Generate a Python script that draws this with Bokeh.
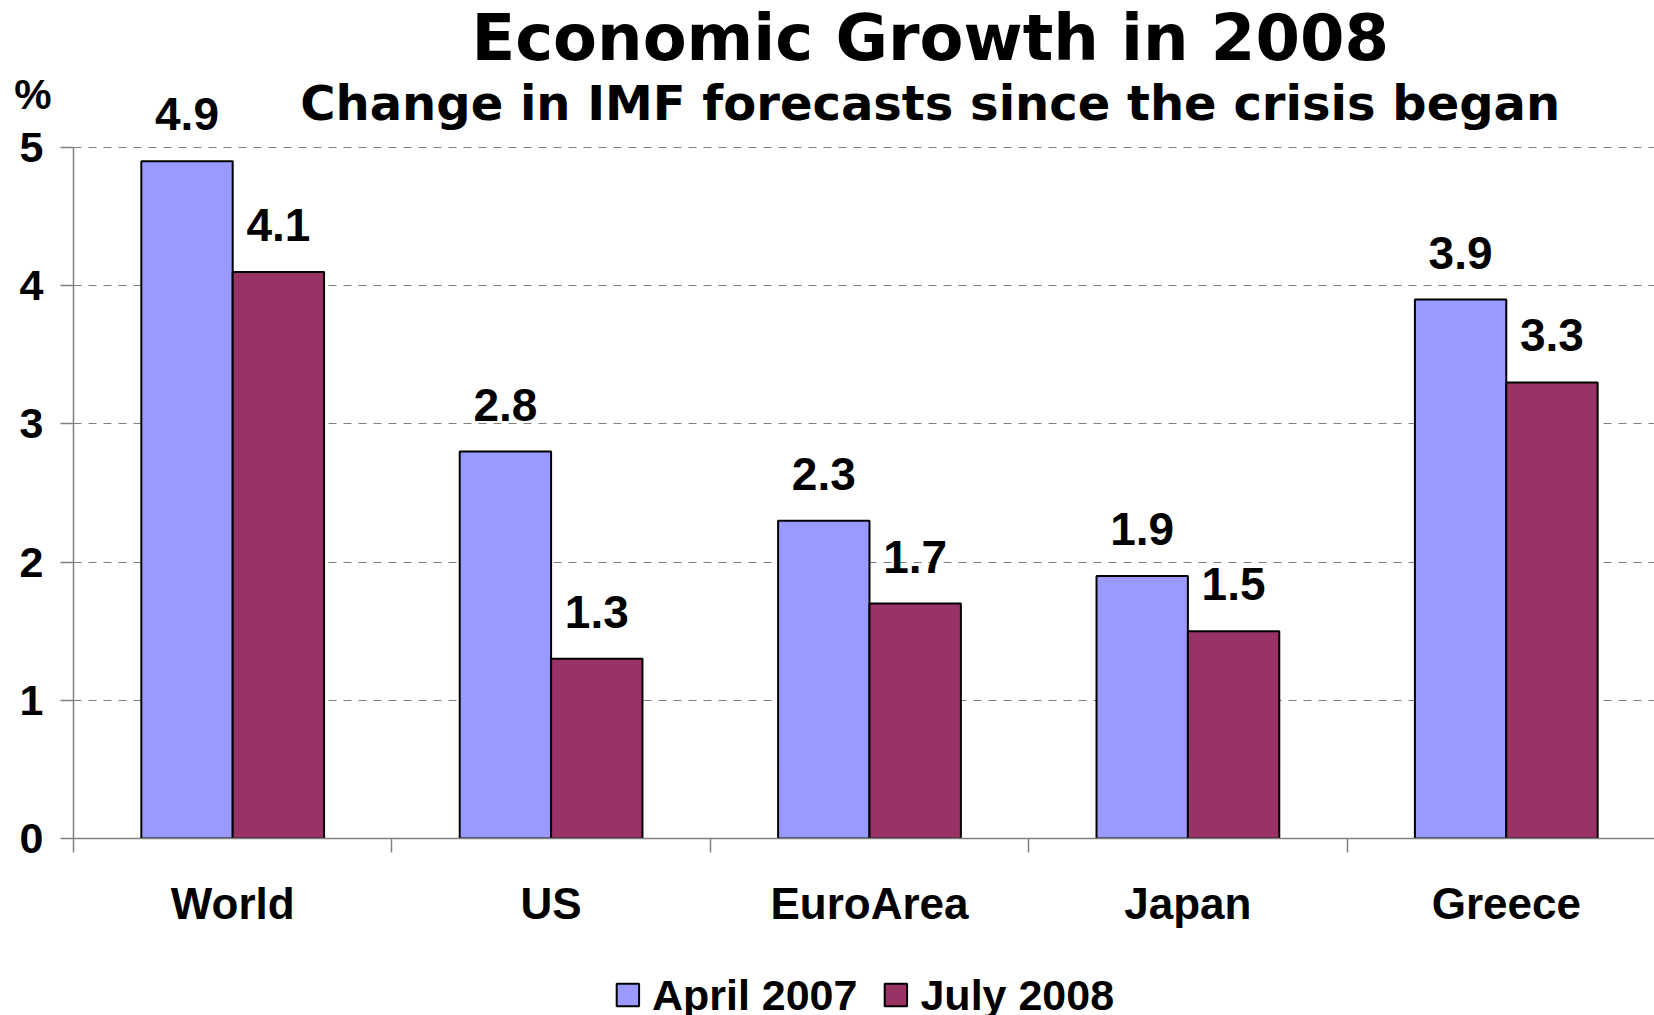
from bokeh.plotting import figure
from bokeh.layouts import column
from bokeh.models import (Range1d, FixedTicker, ColumnDataSource, Label,
                          Legend, LegendItem, LinearAxis)
from bokeh.transform import dodge
from bokeh.core.properties import value
from bokeh.embed import file_html
from bokeh.resources import INLINE

# ---- data ----
categories = ["World", "US", "EuroArea", "Japan", "Greece"]
april_2007 = [4.9, 2.8, 2.3, 1.9, 3.9]
july_2008 = [4.1, 1.3, 1.7, 1.5, 3.3]
y_ticks = [0, 1, 2, 3, 4, 5]
series_names = ["April 2007", "July 2008"]
series_colors = ["#9999FF", "#993366"]
title_text = "Economic Growth in 2008"
subtitle_text = "Change in IMF forecasts since the crisis began"
unit_text = "%"

# ---- layout helpers ----
BAR_W = 0.287
LABEL_LIFT = 0.34   # gap between bar top and value label, in axis units
UNIT_POS = 5.387    # vertical place of the unit sign, in axis units
centers = [i + 0.5 for i in range(len(categories))]
bounds_ticks = [i for i in range(len(categories) + 1)]
LABEL_FONT = "Liberation Sans"

src = ColumnDataSource(dict(
    xa=[c - BAR_W / 2 for c in centers],
    xj=[c + BAR_W / 2 for c in centers],
    april=april_2007,
    july=july_2008,
    la=[f"{v:.1f}" for v in april_2007],
    lj=[f"{v:.1f}" for v in july_2008],
))

p = figure(frame_width=1581, frame_height=838,
           x_range=Range1d(0, 4.9655), y_range=Range1d(0, 6.0637),
           output_backend="svg", toolbar_location=None,
           min_border_left=73, min_border_right=0, min_border_top=0,
           min_border_bottom=136, outline_line_color=None,
           background_fill_color="white", border_fill_color="white")

r1 = p.vbar(x="xa", top="april", width=BAR_W, source=src,
            fill_color=series_colors[0], line_color="black", line_width=2)
r2 = p.vbar(x="xj", top="july", width=BAR_W, source=src,
            fill_color=series_colors[1], line_color="black", line_width=2)

for xcol, ycol, tcol in (("xa", "april", "la"), ("xj", "july", "lj")):
    p.text(x=xcol, y=dodge(ycol, LABEL_LIFT, range=p.y_range), text=tcol, source=src,
           text_align="center", text_baseline="alphabetic",
           text_font=value(LABEL_FONT), text_font_style="bold",
           text_font_size="46px", text_color="black")

# x axis
xa = p.xaxis[0]
xa.ticker = FixedTicker(ticks=centers, minor_ticks=bounds_ticks)
xa.major_label_overrides = {c: n for c, n in zip(centers, categories)}
xa.major_tick_out = 0
xa.major_tick_in = 0
xa.minor_tick_out = 14
xa.minor_tick_in = 0
xa.minor_tick_line_color = "#808080"
xa.minor_tick_line_width = 1.5
xa.axis_line_color = "#808080"
xa.axis_line_width = 1.5
xa.major_label_standoff = 26
xa.major_label_text_font = LABEL_FONT
xa.major_label_text_font_style = "bold"
xa.major_label_text_font_size = "44px"
xa.major_label_text_color = "black"

# y axis
ya = p.yaxis[0]
ya.ticker = FixedTicker(ticks=y_ticks)
ya.bounds = (0, 5)
ya.major_tick_out = 13
ya.major_tick_in = 0
ya.minor_tick_out = 0
ya.minor_tick_in = 0
ya.major_tick_line_color = "#808080"
ya.major_tick_line_width = 1.5
ya.axis_line_color = "#808080"
ya.axis_line_width = 1.5
ya.major_label_standoff = 17
ya.major_label_text_font = LABEL_FONT
ya.major_label_text_font_style = "bold"
ya.major_label_text_font_size = "43px"
ya.major_label_text_color = "black"

# unit sign "%" carried by an outer, label-only axis
unit_axis = LinearAxis(ticker=FixedTicker(ticks=[UNIT_POS]),
                       major_label_overrides={UNIT_POS: unit_text},
                       axis_line_color=None, major_tick_line_color=None,
                       minor_tick_line_color=None,
                       major_tick_out=0, major_tick_in=0,
                       minor_tick_out=0, minor_tick_in=0,
                       major_label_standoff=-35,
                       major_label_text_font=LABEL_FONT,
                       major_label_text_font_style="bold",
                       major_label_text_font_size="42px",
                       major_label_text_color="black")
p.add_layout(unit_axis, "left")

p.xgrid.visible = False
p.ygrid.grid_line_color = "#808080"
p.ygrid.grid_line_dash = "8 7"
p.ygrid.grid_line_width = 1.2
p.ygrid.ticker = FixedTicker(ticks=y_ticks)

# titles
p.add_layout(Label(x=2.6907, y=5.793, text=title_text, text_align="center",
                   text_baseline="alphabetic", text_font="DejaVu Sans",
                   text_font_style="bold", text_font_size="64px", text_color="black"))
p.add_layout(Label(x=2.6907, y=5.322, text=subtitle_text, text_align="center",
                   text_baseline="alphabetic", text_font="DejaVu Sans",
                   text_font_style="bold", text_font_size="48px", text_color="black"))

# legend strip below the chart (keys reuse the series data, kept hidden)
lg = figure(width=1654, height=41, output_backend="svg", toolbar_location=None,
            x_range=Range1d(0, 1), y_range=Range1d(0, 1),
            min_border_left=73, min_border_right=0, min_border_top=0,
            min_border_bottom=0, outline_line_color=None,
            x_axis_location=None, y_axis_location=None,
            background_fill_color="white", border_fill_color="white")
lg.xgrid.visible = False
lg.ygrid.visible = False
k1 = lg.vbar(x="xa", top="april", width=BAR_W, source=src,
             fill_color=series_colors[0], line_color="black", line_width=2,
             visible=False)
k2 = lg.vbar(x="xj", top="july", width=BAR_W, source=src,
             fill_color=series_colors[1], line_color="black", line_width=2,
             visible=False)
legend = Legend(items=[LegendItem(label=series_names[0], renderers=[k1]),
                       LegendItem(label=series_names[1], renderers=[k2])],
                orientation="horizontal", location="center",
                glyph_width=28, glyph_height=28, label_standoff=11, spacing=24,
                label_text_font=LABEL_FONT, label_text_font_style="bold",
                label_text_font_size="43px", label_text_color="black",
                border_line_color=None, background_fill_alpha=0,
                inactive_fill_alpha=0, padding=0, margin=0)
lg.add_layout(legend, "center")

layout = column(p, lg, spacing=0)
open("out.html", "w").write(file_html(layout, INLINE))
